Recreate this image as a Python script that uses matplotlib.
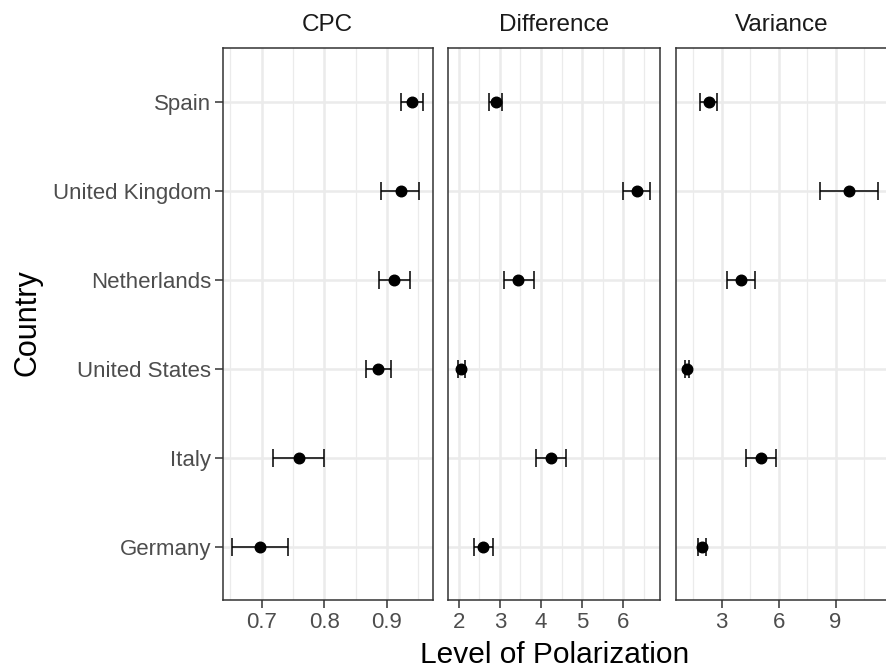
import matplotlib
matplotlib.use("Agg")
import matplotlib.pyplot as plt
from matplotlib.ticker import FixedLocator
import numpy as np

plt.rcParams['font.family'] = ['Liberation Sans', 'DejaVu Sans']

# countries from bottom to top
countries = ["Germany", "Italy", "United States", "Netherlands", "United Kingdom", "Spain"]

cpc_est = [0.698, 0.759, 0.886, 0.912, 0.922, 0.940]
cpc_lo = [0.653, 0.718, 0.866, 0.887, 0.891, 0.922]
cpc_hi = [0.742, 0.800, 0.906, 0.937, 0.952, 0.958]

diff_est = [2.60, 4.24, 2.06, 3.45, 6.33, 2.90]
diff_lo = [2.37, 3.87, 1.98, 3.09, 6.00, 2.74]
diff_hi = [2.83, 4.61, 2.14, 3.82, 6.66, 3.06]

var_est = [1.95, 5.07, 1.18, 4.00, 9.70, 2.33]
var_lo = [1.74, 4.28, 1.09, 3.28, 8.19, 1.88]
var_hi = [2.16, 5.86, 1.30, 4.74, 11.21, 2.77]

panels = [
    ("CPC", cpc_est, cpc_lo, cpc_hi, [0.7, 0.8, 0.9], [0.65, 0.75, 0.85, 0.95], ["0.7", "0.8", "0.9"]),
    ("Difference", diff_est, diff_lo, diff_hi, [2, 3, 4, 5, 6], [1.5, 2.5, 3.5, 4.5, 5.5, 6.5], ["2", "3", "4", "5", "6"]),
    ("Variance", var_est, var_lo, var_hi, [3, 6, 9], [1.5, 4.5, 7.5, 10.5], ["3", "6", "9"]),
]

W, H = 886, 669
fig = plt.figure(figsize=(W / 100, H / 100), dpi=100)

# panel edges in pixels (last one runs off the right edge, as in the source)
x_edges = [(222.7, 432.7), (448.3, 660.0), (675.7, 887.2)]
top_px, bot_px = 48.1, 600.3

y = np.arange(1, len(countries) + 1)

for i, (name, est, lo, hi, major, minor, labels) in enumerate(panels):
    x0, x1 = x_edges[i]
    ax = fig.add_axes([x0 / W, 1 - bot_px / H, (x1 - x0) / W, (bot_px - top_px) / H])
    est = np.array(est); lo = np.array(lo); hi = np.array(hi)
    ax.errorbar(est, y, xerr=[est - lo, hi - est], fmt='o', color='black',
                ms=7.6, elinewidth=1.1, capsize=6.4, capthick=1.1, zorder=3)

    # ggplot-like 5% expansion
    span = hi.max() - lo.min()
    ax.set_xlim(lo.min() - 0.05 * span, hi.max() + 0.05 * span)
    ax.set_ylim(0.4, len(countries) + 0.6)

    ax.xaxis.set_major_locator(FixedLocator(major))
    ax.xaxis.set_minor_locator(FixedLocator(minor))
    ax.set_xticklabels(labels)
    ax.set_yticks(y)
    ax.grid(which='major', color='#EBEBEB', linewidth=1.8, zorder=0)
    ax.grid(which='minor', axis='x', color='#EBEBEB', linewidth=0.9, zorder=0)
    ax.set_axisbelow(True)

    for s in ax.spines.values():
        s.set_color('#333333')
        s.set_linewidth(1.1)
    if i == 2:
        ax.spines['right'].set_visible(False)

    ax.tick_params(axis='both', which='major', length=5.5, width=1.1, color='#333333',
                   labelsize=16, labelcolor='#4D4D4D', pad=3)
    ax.tick_params(axis='x', which='minor', length=0)
    if i == 0:
        ax.set_yticklabels(countries)
    else:
        ax.tick_params(axis='y', length=0, labelleft=False)

    ax.set_title(name, fontsize=17.5, color='#1A1A1A', pad=12)

fig.text(554.5 / W, 1 - 663 / H, "Level of Polarization", fontsize=21.5,
         ha='center', va='baseline', color='black')
fig.text(27 / W, 1 - 323 / H, "Country", fontsize=22, rotation=90,
         ha='center', va='center', color='black')

fig.savefig("out.png", dpi=100)
